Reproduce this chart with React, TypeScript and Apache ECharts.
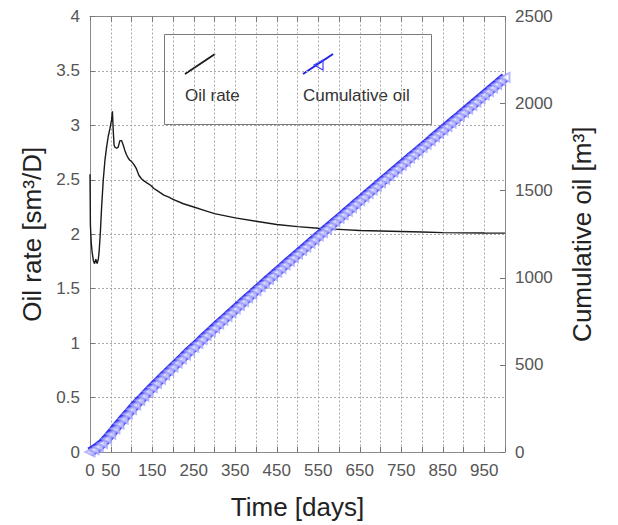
import React, { useEffect, useRef } from "react";
import * as echarts from "echarts";

// Oil production rate [sm³/D] sampled against time [days]
const rateDays = [
  0, 1, 3, 5, 8, 11, 14, 17, 20, 22, 25, 28, 32, 36, 40, 44, 48, 52, 54,
  56, 58, 60, 64, 68, 72, 76, 80, 84, 88, 92, 96, 100, 106, 112, 118, 124, 130,
  138, 146, 154, 162, 170, 178, 190, 200, 225, 250, 275, 300, 350, 400, 450,
  500, 550, 600, 650, 700, 750, 800, 850, 900, 950, 1000,
];
const rateValues = [
  2.55, 2.08, 1.92, 1.84, 1.76, 1.73, 1.77, 1.73, 1.77, 1.84, 2.02,
  2.25, 2.5, 2.68, 2.8, 2.9, 2.97, 3.05, 3.13, 2.95, 2.82, 2.8, 2.79, 2.8, 2.86,
  2.86, 2.82, 2.77, 2.73, 2.7, 2.68, 2.67, 2.64, 2.6, 2.54, 2.51, 2.49, 2.47,
  2.45, 2.42, 2.4, 2.38, 2.36, 2.34, 2.32, 2.28, 2.25, 2.22, 2.19, 2.15, 2.12,
  2.09, 2.07, 2.055, 2.045, 2.035, 2.03, 2.025, 2.02, 2.015, 2.013, 2.011, 2.01,
];

// Cumulative oil [m³], one reading every 10 days
const cumDays = [
  0, 10, 20, 30, 40, 50, 60, 70, 80, 90, 100, 110, 120, 130, 140, 150, 160, 170,
  180, 190, 200, 210, 220, 230, 240, 250, 260, 270, 280, 290, 300, 310, 320,
  330, 340, 350, 360, 370, 380, 390, 400, 410, 420, 430, 440, 450, 460, 470,
  480, 490, 500, 510, 520, 530, 540, 550, 560, 570, 580, 590, 600, 610, 620,
  630, 640, 650, 660, 670, 680, 690, 700, 710, 720, 730, 740, 750, 760, 770,
  780, 790, 800, 810, 820, 830, 840, 850, 860, 870, 880, 890, 900, 910, 920,
  930, 940, 950, 960, 970, 980, 990, 1000,
];
const cumValues = [
  0, 14, 30, 49, 75, 103, 133, 161, 189, 217, 244, 270, 296, 321, 346, 370, 394,
  418, 442, 465, 488, 511, 534, 557, 580, 602, 624, 647, 669, 691, 713, 735,
  757, 778, 800, 821, 842, 864, 885, 906, 928, 949, 970, 991, 1012, 1033, 1054,
  1075, 1096, 1116, 1137, 1158, 1178, 1199, 1219, 1240, 1260, 1281, 1301, 1322,
  1342, 1362, 1383, 1403, 1424, 1444, 1464, 1485, 1505, 1525, 1546, 1566, 1586,
  1607, 1627, 1647, 1667, 1688, 1708, 1728, 1748, 1768, 1788, 1809, 1829, 1849,
  1869, 1889, 1909, 1929, 1950, 1970, 1990, 2010, 2030, 2050, 2070, 2090, 2110,
  2131, 2151,
];

// Time axis labels that are printed (ticks sit every 50 days)
const timeLabels = [0, 50, 150, 250, 350, 450, 550, 650, 750, 850, 950];

const FONT = "Liberation Sans, Arial, sans-serif";
const AXIS_GREY = "#8a8a8a";
const GRID_GREY = "#a8a8a8";
const LABEL_GREY = "#555555";
const NAME_COLOR = "#222222";

// The chart div sits inside the body's 8px margin
const W = 610;
const H = 517;

export default function App() {
  const ref = useRef<HTMLDivElement>(null);

  useEffect(() => {
    if (!ref.current) return;
    const chart = echarts.init(ref.current, undefined, { renderer: "svg" });

    const rateData = rateDays.map((d, i) => [d, rateValues[i]]);
    const cumData = cumDays.map((d, i) => [d, cumValues[i]]);

    const tickStyle = { inside: true, length: 5, lineStyle: { color: "#777" } };

    chart.setOption({
      animation: false,
      backgroundColor: "#ffffff",
      textStyle: { fontFamily: FONT },
      grid: { left: 82, right: 113, top: 7, bottom: 72, containLabel: false },
      xAxis: [
        {
          type: "value",
          min: 0,
          max: 1000,
          interval: 50,
          position: "bottom",
          axisLine: { show: true, onZero: false, lineStyle: { color: AXIS_GREY } },
          axisTick: tickStyle,
          axisLabel: {
            color: LABEL_GREY,
            fontSize: 17,
            fontFamily: FONT,
            margin: 10,
            formatter: (v: number) => (timeLabels.includes(v) ? String(v) : ""),
          },
          splitLine: { show: true, lineStyle: { type: [2, 2], color: GRID_GREY } },
          name: "Time [days]",
          nameLocation: "middle",
          nameGap: 42,
          nameTextStyle: { fontSize: 26, color: NAME_COLOR, fontFamily: FONT },
        },
        {
          type: "value",
          min: 0,
          max: 1000,
          interval: 50,
          position: "top",
          axisLine: { show: true, onZero: false, lineStyle: { color: AXIS_GREY } },
          axisTick: tickStyle,
          axisLabel: { show: false },
          splitLine: { show: false },
        },
      ],
      yAxis: [
        {
          type: "value",
          min: 0,
          max: 4,
          interval: 0.5,
          position: "left",
          axisLine: { show: true, onZero: false, lineStyle: { color: AXIS_GREY } },
          axisTick: tickStyle,
          axisLabel: { color: LABEL_GREY, fontSize: 17, fontFamily: FONT, margin: 10 },
          splitLine: { show: true, lineStyle: { type: [2, 2], color: GRID_GREY } },
          name: "Oil rate [sm³/D]",
          nameLocation: "middle",
          nameGap: 42,
          nameTextStyle: { fontSize: 26, color: NAME_COLOR, fontFamily: FONT },
        },
        {
          type: "value",
          min: 0,
          max: 2500,
          interval: 500,
          position: "right",
          axisLine: { show: true, onZero: false, lineStyle: { color: AXIS_GREY } },
          axisTick: tickStyle,
          axisLabel: {
            color: LABEL_GREY,
            fontSize: 17,
            fontFamily: FONT,
            margin: 10,
            formatter: (v: number) => String(v),
          },
          splitLine: { show: false },
          name: "Cumulative oil [m³]",
          nameLocation: "middle",
          nameGap: 64,
          nameTextStyle: { fontSize: 26, color: NAME_COLOR, fontFamily: FONT },
        },
      ],
      series: [
        {
          name: "Oil rate",
          type: "line",
          xAxisIndex: 0,
          yAxisIndex: 0,
          data: rateData,
          showSymbol: false,
          symbol: "none",
          lineStyle: { color: "#1a1a1a", width: 1.4 },
          z: 2,
        },
        {
          // saturated band behind the cumulative curve
          name: "Cumulative oil band",
          type: "line",
          xAxisIndex: 0,
          yAxisIndex: 1,
          data: cumData,
          showSymbol: false,
          symbol: "none",
          lineStyle: { color: "#3434ee", width: 10 },
          z: 3,
        },
        {
          name: "Cumulative oil",
          type: "line",
          xAxisIndex: 0,
          yAxisIndex: 1,
          data: cumData,
          symbol: "emptyTriangle",
          symbolSize: 9,
          symbolRotate: 90,
          showSymbol: true,
          itemStyle: { color: "#9a9aff", borderColor: "#9a9aff", borderWidth: 1, opacity: 0.7 },
          lineStyle: { color: "#0000c8", width: 2.5 },
          z: 4,
        },
      ],
      graphic: [
        {
          type: "group",
          z: 100,
          children: [
            {
              type: "rect",
              shape: { x: 156.5, y: 26.5, width: 267, height: 90 },
              style: { fill: "#ffffff", stroke: "#7a7a7a", lineWidth: 1 },
            },
            {
              type: "line",
              shape: { x1: 177, y1: 66, x2: 207, y2: 46 },
              style: { stroke: "#1a1a1a", lineWidth: 1.8 },
            },
            {
              type: "text",
              x: 177,
              y: 87,
              style: {
                text: "Oil rate",
                fill: "#333",
                fontSize: 17,
                fontFamily: FONT,
                verticalAlign: "middle",
              },
            },
            {
              type: "line",
              shape: { x1: 295, y1: 66, x2: 325, y2: 46 },
              style: { stroke: "#2020e0", lineWidth: 2 },
            },
            {
              type: "polygon",
              shape: { points: [[306, 57], [315, 52], [315, 62]] },
              style: { fill: "none", stroke: "#4040ff", lineWidth: 1.2 },
            },
            {
              type: "text",
              x: 295,
              y: 87,
              style: {
                text: "Cumulative oil",
                fill: "#333",
                fontSize: 17,
                fontFamily: FONT,
                verticalAlign: "middle",
              },
            },
          ],
        },
      ],
    });

    return () => chart.dispose();
  }, []);

  return <div ref={ref} style={{ width: W, height: H }} />;
}
